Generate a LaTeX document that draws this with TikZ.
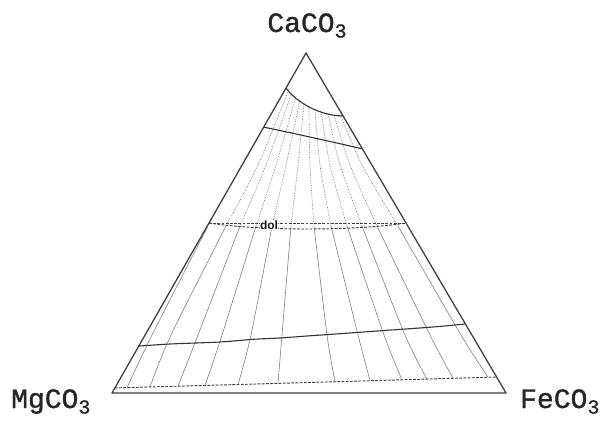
\documentclass[tikz,border=0pt]{standalone}
\usepackage{fontspec}
\usetikzlibrary{calc}
\newfontfamily\labfont[FakeBold=1.2]{Liberation Mono}
\newfontfamily\dolfont{Liberation Sans}
\newcommand{\chemsub}[1]{\raisebox{-0.2em}{\fontsize{20}{20}\selectfont #1}}
\begin{document}
\begin{tikzpicture}[x=1pt,y=-1pt,
  edge/.style={draw=black!75,line width=1.3pt,line join=round},
  phase/.style={draw=black!80,line width=1.1pt},
  solvus/.style={draw=black!75,line width=0.95pt,dash pattern=on 2.8pt off 1.4pt},
  tie/.style={draw=black!50,line width=0.6pt},
  tieup/.style={draw=black!55,line width=0.65pt,densely dotted},
  lab/.style={font=\labfont\fontsize{28}{28}\selectfont,inner sep=0pt,text=black!85},
  dollab/.style={font=\dolfont\bfseries\fontsize{12}{12}\selectfont,inner sep=0.2pt,fill=white,text=black!90}]
\useasboundingbox (0,0) rectangle (604,420);
% vertices
\coordinate (C) at (306,53);
\coordinate (M) at (112,393);
\coordinate (F) at (506,393);
% end points of the phase boundaries on the edges
\coordinate (tl) at ($(C)!0.103!(M)$);
\coordinate (tr) at ($(C)!0.185!(F)$);
\coordinate (sl) at ($(C)!0.218!(M)$);
\coordinate (sr) at ($(C)!0.282!(F)$);
\coordinate (dl) at ($(C)!0.5!(M)$);
\coordinate (dr) at ($(C)!0.5!(F)$);
\coordinate (ll) at ($(C)!0.862!(M)$);
\coordinate (lr) at ($(C)!0.797!(F)$);
\coordinate (bl) at ($(C)!0.985!(M)$);
\coordinate (br) at ($(C)!0.953!(F)$);
% tie lines
\draw[tie] plot[smooth] coordinates {(208,226) (152,335) (127,387.7)};
\foreach \xt/\yt/\xa/\xb/\xc/\xd/\yd in {
  289/89/258/226/171/150/387,
  292/92/266/240/198/178/386.2,
  296/96/276/256/222/205/385.4,
  300/100/286/272/251/238/384.4,
  304/103/298/291/282/278/383.3,
  309/106/310/314/327/335/381.6,
  315/109/320/331/358/370/380.6,
  321/111/330/347/384/402/379.7,
  328/113/340/362/405/427/379,
  334/115/350/377/430/453/378.2,
  341/116/362/398/461/488/377.2}{
  \draw[tieup] plot[smooth] coordinates {(\xt,\yt) (\xa,165) (\xb,226)};
  \draw[tie] plot[smooth] coordinates {(\xb,226) (\xc,335) (\xd,\yd)};
}
% phase boundaries
\draw[phase] (tl) .. controls (296,102) and (320,116) .. (tr);
\draw[phase] (sl) .. controls (290,132.5) and (335,142.5) .. (sr);
\draw[solvus] (dl) -- (dr);
\draw[solvus] (dl) .. controls (260,231) and (355,231) .. (dr);
\draw[phase] plot[smooth,tension=0.5] coordinates {(ll) (170,344) (220,342) (253,339.3) (280,338) (307,336) (333,334.2) (387,330.3) (433,327) (lr)};
\draw[solvus] (bl) .. controls (240,384.5) and (380,380.5) .. (br);
% triangle
\draw[edge] (C) -- (M) -- (F) -- cycle;
% labels
\node[dollab] (dol) at (269,225.5) {dol};
\node[lab,anchor=base] (ca) at (307,32) {CaCO\chemsub{3}};
\node[lab,anchor=base west] (mg) at (11,408) {MgCO\chemsub{3}};
\node[lab,anchor=base west] (fe) at (520,408) {FeCO\chemsub{3}};
\end{tikzpicture}
\end{document}
